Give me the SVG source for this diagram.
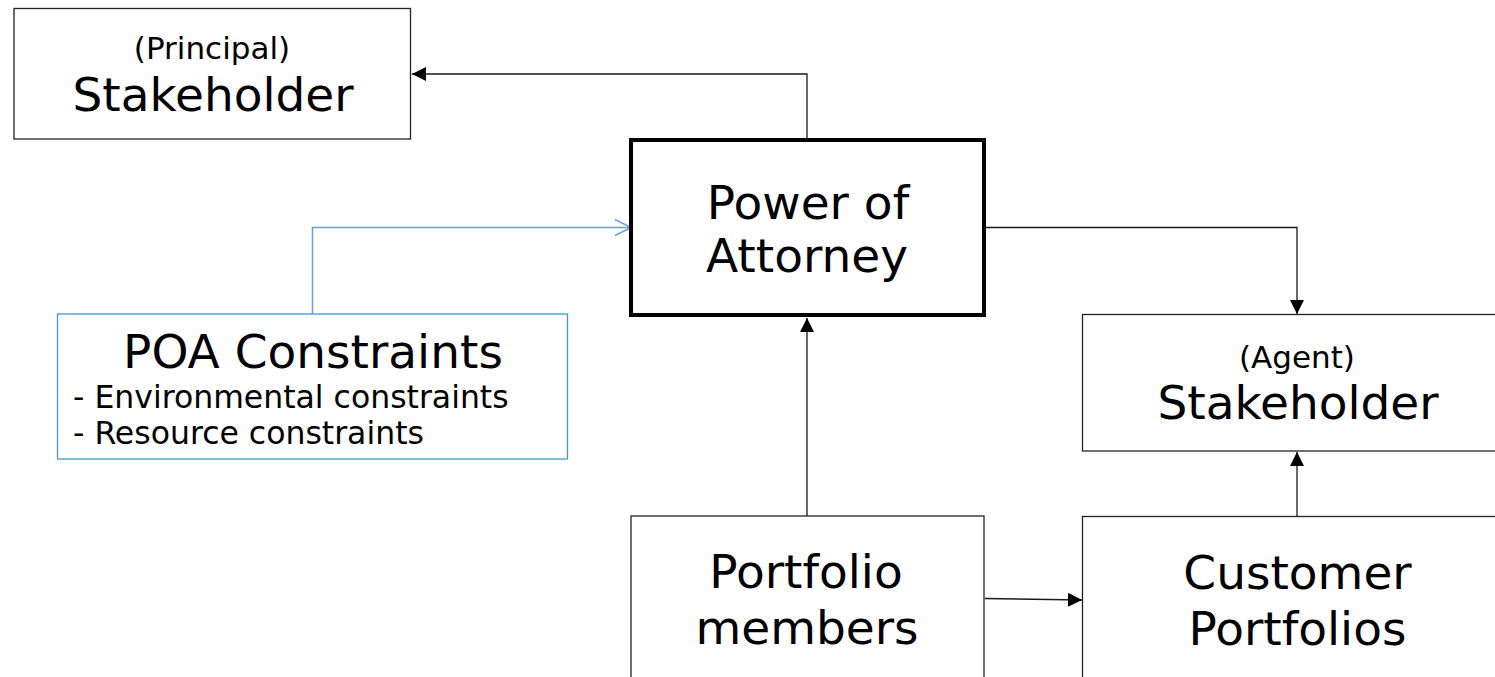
<svg xmlns="http://www.w3.org/2000/svg" width="1495" height="677" viewBox="0 0 1495 677">
  <style>
    .box { fill: #ffffff; stroke: #222222; stroke-width: 1.3; }
    .box-strong { fill: #ffffff; stroke: #000000; stroke-width: 4; }
    .box-blue { fill: #ffffff; stroke: #3d9ad6; stroke-width: 1.3; }
    .label { font-family: "DejaVu Sans", Verdana, sans-serif; fill: #000000; text-anchor: middle; }
    .big { font-size: 47px; }
    .small { font-size: 31px; }
    .list { font-family: "DejaVu Sans", Verdana, sans-serif; fill: #000000; font-size: 31.5px; }
    .link { fill: none; stroke: #1a1a1a; stroke-width: 1.3; }
    .link-blue { fill: none; stroke: #6a9fd8; stroke-width: 1.5; }
  </style>
  <defs>
    <marker id="arrow" markerUnits="userSpaceOnUse" markerWidth="15" markerHeight="15" refX="14" refY="7" orient="auto">
      <path d="M0,0 L14,7 L0,14 z" fill="#000000"/>
    </marker>
    <marker id="chevron" markerUnits="userSpaceOnUse" markerWidth="20" markerHeight="20" refX="17" refY="9" orient="auto">
      <path d="M1,1 L17,9 L1,17" fill="none" stroke="#6a9fd8" stroke-width="1.5"/>
    </marker>
  </defs>

  <!-- connectors -->
  <g id="connectors">
    <path class="link" d="M807,138 V74 H412" marker-end="url(#arrow)"/>
    <path class="link-blue" d="M312.5,314 V227.5 H631" marker-end="url(#chevron)"/>
    <path class="link" d="M986,227.5 H1297 V314" marker-end="url(#arrow)"/>
    <path class="link" d="M807,516 V318" marker-end="url(#arrow)"/>
    <path class="link" d="M1297,516 V452" marker-end="url(#arrow)"/>
    <path class="link" d="M985,598.5 L1082,600" marker-end="url(#arrow)"/>
  </g>

  <!-- principal stakeholder -->
  <g id="principal">
    <rect class="box" x="14" y="8.5" width="396.5" height="130.5"/>
    <text class="label small" x="212" y="59">(Principal)</text>
    <text class="label big" x="213" y="111">Stakeholder</text>
  </g>

  <!-- power of attorney -->
  <g id="poa">
    <rect class="box-strong" x="631" y="140" width="353" height="175"/>
    <text class="label" font-size="47" x="808" y="219">Power of</text>
    <text class="label" font-size="47" x="807" y="272">Attorney</text>
  </g>

  <!-- constraints on the power of attorney -->
  <g id="constraints">
    <rect class="box-blue" x="57.5" y="314" width="510" height="145"/>
    <text class="label" font-size="47" x="313" y="368">POA Constraints</text>
    <text class="list" x="73" y="408">- Environmental constraints</text>
    <text class="list" x="73" y="443.5">- Resource constraints</text>
  </g>

  <!-- agent stakeholder -->
  <g id="agent">
    <rect class="box" x="1082.5" y="314.5" width="431" height="136.5"/>
    <text class="label small" x="1297" y="368">(Agent)</text>
    <text class="label big" x="1298" y="419">Stakeholder</text>
  </g>

  <!-- portfolio members -->
  <g id="members">
    <rect class="box" x="631" y="516" width="353" height="200"/>
    <text class="label big" x="806" y="588">Portfolio</text>
    <text class="label big" x="807" y="644">members</text>
  </g>

  <!-- customer portfolios -->
  <g id="customer">
    <rect class="box" x="1082.5" y="516.5" width="431" height="200"/>
    <text class="label big" x="1297.5" y="589">Customer</text>
    <text class="label big" x="1297.5" y="645">Portfolios</text>
  </g>
</svg>
